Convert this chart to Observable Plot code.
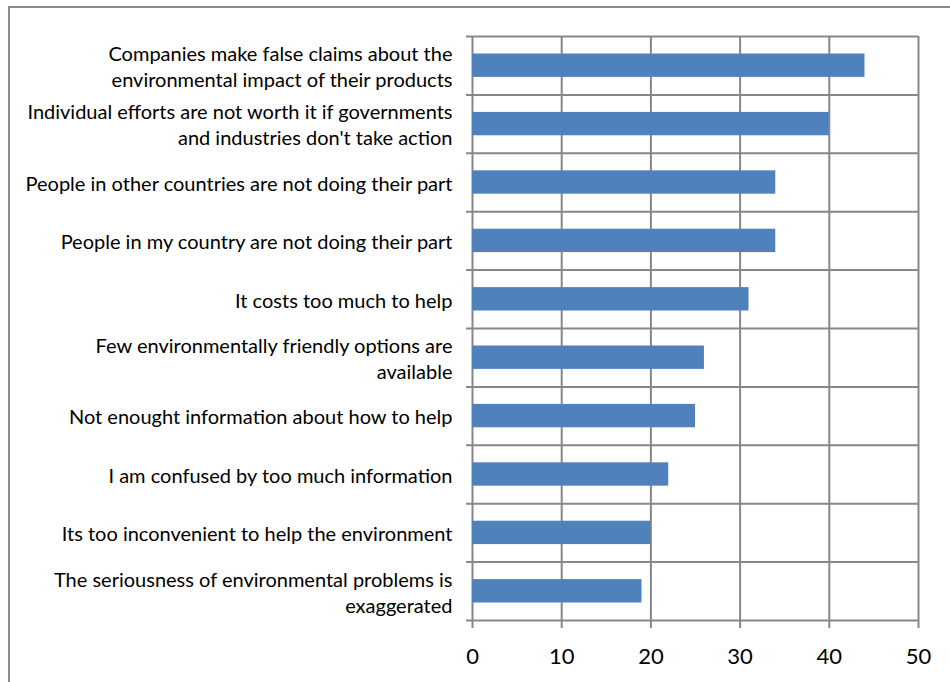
<!DOCTYPE html>
<html>
<head>
<meta charset="utf-8">
<script src="https://cdn.jsdelivr.net/npm/d3@7"></script>
<script src="https://cdn.jsdelivr.net/npm/@observablehq/plot@0.6"></script>
<style>
  html, body { margin: 0; padding: 0; background: #fff; overflow: hidden; width: 950px; height: 682px; }
  #frame { position: absolute; left: 8px; top: 6px; width: 1200px; height: 1200px; border: 2px solid #8c8c8c; box-sizing: border-box; pointer-events: none; }
  #chart { position: absolute; left: 0; top: 0; }
</style>
</head>
<body>
<div id="chart"></div>
<div id="frame"></div>
<script>
const categories = [
  "Companies make false claims about the\nenvironmental impact of their products",
  "Individual efforts are not worth it if governments\nand industries don't take action",
  "People in other countries are not doing their part",
  "People in my country are not doing their part",
  "It costs too much to help",
  "Few environmentally friendly options are\navailable",
  "Not enought information about how to help",
  "I am confused by too much information",
  "Its too inconvenient to help the environment",
  "The seriousness of environmental problems is\nexaggerated"
];
const values = [44, 40, 34, 34, 31, 26, 25, 22, 20, 19];
const xTicks = [0, 10, 20, 30, 40, 50];

const data = categories.map((c, i) => ({category: c, value: values[i], idx: i}));
const boundaries = d3.range(categories.length + 1).map(i => i - 0.5);

const chart = Plot.plot({
  width: 950,
  height: 682,
  marginTop: 36,
  marginBottom: 62,
  marginLeft: 472,
  marginRight: 32,
  style: {fontFamily: "Lato, 'Open Sans', sans-serif", background: "transparent"},
  x: {domain: [0, 50], ticks: xTicks, label: null},
  y: {domain: [-0.5, categories.length - 0.5], reverse: true, axis: null},
  marks: [
    Plot.ruleX(xTicks, {x: d => d, stroke: "#878787", strokeWidth: 2, strokeOpacity: 1, insetBottom: -8}),
    Plot.ruleY(boundaries, {y: d => d, stroke: "#878787", strokeWidth: 2, strokeOpacity: 1, insetLeft: -6}),
    Plot.rect(data, {x1: () => 0, x2: "value", y1: d => d.idx - 0.2, y2: d => d.idx + 0.2, fill: "#4F81BD"}),
    Plot.text(data, {x: () => 0, y: "idx", text: "category", textAnchor: "end", dx: -20, fontSize: 20, lineHeight: 1.3, fill: "#000"}),
    Plot.axisX({ticks: xTicks, tickSize: 0, tickPadding: 28, fontSize: 22, label: null, fill: "#000"})
  ]
});
document.getElementById("chart").appendChild(chart);
</script>
</body>
</html>
